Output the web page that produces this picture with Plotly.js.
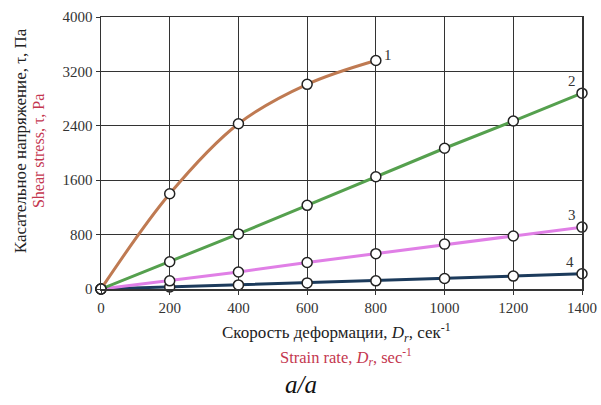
<!DOCTYPE html>
<html><head><meta charset="utf-8">
<script src="https://cdn.plot.ly/plotly-3.0.1.min.js"></script>
<style>body{margin:0;background:#fff}#c{width:601px;height:405px}</style>
</head><body><div id="c"></div>
<script>
const x1 = [0, 200, 400, 600, 800];
const y1 = [0, 1400, 2430, 3010, 3360];
const xAll = [0, 200, 400, 600, 800, 1000, 1200, 1400];
const y2 = [0, 400, 810, 1230, 1650, 2070, 2470, 2880];
const y3 = [0, 120, 250, 390, 520, 660, 780, 910];
const y4 = [0, 30, 60, 90, 120, 155, 190, 225];
const seriesLabels = ['1', '2', '3', '4'];
const xTicks = [0, 200, 400, 600, 800, 1000, 1200, 1400];
const yTicks = [0, 800, 1600, 2400, 3200, 4000];

const marker = {symbol: 'circle', size: 10, color: '#fff', line: {color: '#222', width: 1.5}};
function tr(x, y, color, shape) {
  return {x: x, y: y, mode: 'lines+markers', type: 'scatter',
    line: {color: color, width: 3, shape: shape || 'linear', smoothing: 1},
    marker: marker, cliponaxis: false, showlegend: false};
}
const data = [
  tr(xAll, y4, '#1c3b5c'),
  tr(xAll, y3, '#e07fe6'),
  tr(xAll, y2, '#55a04e'),
  tr(x1, y1, '#bf7a52', 'spline')
];
const serif = '"Liberation Serif", "Times New Roman", serif';
const red = '#c4374f';
const ann = [
  {x: x1[4], y: y1[4], text: seriesLabels[0], xanchor: 'left', yanchor: 'bottom', xshift: 6, yshift: -4},
  {x: xAll[7], y: y2[7], text: seriesLabels[1], xanchor: 'right', yanchor: 'bottom', xshift: -4, yshift: 2},
  {x: xAll[7], y: y3[7], text: seriesLabels[2], xanchor: 'right', yanchor: 'bottom', xshift: -4, yshift: 2},
  {x: xAll[7], y: y4[7], text: seriesLabels[3], xanchor: 'right', yanchor: 'bottom', xshift: -6, yshift: 2}
].map(a => Object.assign(a, {xref: 'x', yref: 'y', showarrow: false, font: {family: serif, size: 15, color: '#333'}}));
ann.push(
  {xref: 'paper', yref: 'paper', x: -0.168, y: 0.544, textangle: -90, showarrow: false,
   text: 'Касательное напряжение, τ, Па', font: {family: serif, size: 17, color: '#222'}, xanchor: 'center', yanchor: 'middle'},
  {xref: 'paper', yref: 'paper', x: -0.131, y: 0.507, textangle: -90, showarrow: false,
   text: 'Shear stress, τ, Pa', font: {family: serif, size: 16, color: red}, xanchor: 'center', yanchor: 'middle'},
  {xref: 'paper', yref: 'paper', x: 0.489, y: -0.16, showarrow: false, xanchor: 'center', yanchor: 'middle',
   text: 'Скорость деформации, <i>D<sub>r</sub></i>, сек<sup>-1</sup>', font: {family: serif, size: 17, color: '#222'}},
  {xref: 'paper', yref: 'paper', x: 0.509, y: -0.25, showarrow: false, xanchor: 'center', yanchor: 'middle',
   text: 'Strain rate, <i>D<sub>r</sub></i>, sec<sup>-1</sup>', font: {family: serif, size: 16.5, color: red}},
  {xref: 'paper', yref: 'paper', x: 0.416, y: -0.35, showarrow: false, xanchor: 'center', yanchor: 'middle',
   text: '<i>a/a</i>', font: {family: serif, size: 25, color: '#111'}}
);
const axisCommon = {showgrid: true, gridcolor: '#333', gridwidth: 1.2, showline: true, linecolor: '#333', linewidth: 1.5,
  mirror: true, ticks: 'outside', ticklen: 4, tickcolor: '#333', zeroline: false,
  tickfont: {family: serif, size: 15, color: '#333'}, fixedrange: true};
const layout = {
  width: 601, height: 405, margin: {l: 101, r: 19, t: 17, b: 116},
  paper_bgcolor: '#fff', plot_bgcolor: '#fff', font: {family: serif},
  xaxis: Object.assign({}, axisCommon, {range: [0, 1400], tickvals: xTicks, ticktext: xTicks.map(String)}),
  yaxis: Object.assign({}, axisCommon, {range: [0, 4000], tickvals: yTicks, ticktext: yTicks.map(String)}),
  annotations: ann
};
Plotly.newPlot('c', data, layout, {displayModeBar: false, staticPlot: true});
</script></body></html>
